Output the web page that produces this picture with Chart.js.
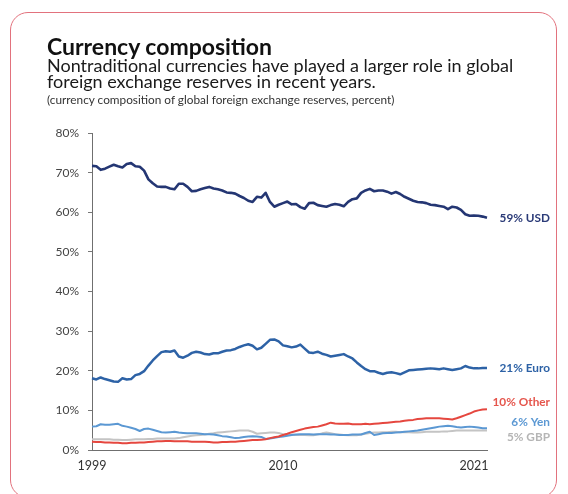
<!DOCTYPE html>
<html>
<head>
<meta charset="utf-8">
<script src="https://cdn.jsdelivr.net/npm/chart.js"></script>
<style>
  body { margin: 0; background: #fff; font-family: Lato, "Noto Sans", sans-serif; }
  #wrap { position: relative; width: 568px; height: 494px; overflow: hidden; }
  #frame { position: absolute; left: 10px; top: 12px; width: 545px; height: 484px;
           border: 1.5px solid #e2727d; border-radius: 18px; pointer-events: none; }
  #my-chart { position: absolute; left: 0; top: 0; }
  .txt { position: absolute; left: 47px; color: #111; white-space: nowrap; }
  #title { top: 34px; font-size: 23px; line-height: 24px; font-weight: 700; }
  #sub { top: 57px; font-size: 18px; line-height: 16px; color: #1a1a1a; }
  #note { top: 92.5px; font-size: 11.8px; line-height: 14px; color: #333; }
</style>
</head>
<body>
<div id="wrap">
  <canvas id="my-chart" width="568" height="494"></canvas>
  <div class="txt" id="title">Currency composition</div>
  <div class="txt" id="sub">Nontraditional currencies have played a larger role in global<br>foreign exchange reserves in recent years.</div>
  <div class="txt" id="note">(currency composition of global foreign exchange reserves, percent)</div>
  <div id="frame"></div>
</div>
<script>
// quarterly, 1999Q1 .. 2021Q4
const quarters = [];
for (let y = 1999; y <= 2021; y++) {
  for (let q = 1; q <= 4; q++) quarters.push(y + 'Q' + q);
}
const yearTicks = ['1999', '2010', '2021'];
const yTicks = [0, 10, 20, 30, 40, 50, 60, 70, 80];

const usd = [71.7, 71.6, 70.7, 71.0, 71.5, 72.0, 71.6, 71.3, 72.2, 72.4,
  71.6, 71.5, 70.5, 68.3, 67.3, 66.5, 66.4, 66.4, 66.0, 65.8,
  67.2, 67.2, 66.4, 65.3, 65.4, 65.8, 66.1, 66.4, 66.0, 65.8,
  65.5, 65.0, 64.9, 64.7, 64.1, 63.6, 62.9, 62.6, 63.9, 63.7,
  64.9, 62.6, 61.4, 61.9, 62.3, 62.7, 62.0, 62.1, 61.3, 60.9,
  62.3, 62.4, 61.8, 61.6, 61.4, 61.8, 62.1, 61.9, 61.5, 62.6,
  63.3, 63.5, 64.9, 65.5, 65.9, 65.3, 65.5, 65.5, 65.2, 64.7,
  65.1, 64.6, 63.9, 63.4, 62.9, 62.6, 62.5, 62.3, 61.9, 61.8,
  61.6, 61.4, 60.8, 61.4, 61.2, 60.6, 59.5, 59.1, 59.2, 59.1,
  58.9, 58.6];
const euro = [18.1, 17.8, 18.3, 17.9, 17.6, 17.3, 17.2, 18.1, 17.8, 17.9,
  18.9, 19.2, 19.9, 21.3, 22.6, 23.7, 24.7, 24.9, 24.8, 25.1,
  23.6, 23.3, 23.8, 24.5, 24.8, 24.6, 24.2, 24.1, 24.4, 24.4,
  24.8, 25.1, 25.2, 25.5, 26.0, 26.4, 26.7, 26.3, 25.4, 25.8,
  26.8, 27.8, 27.9, 27.4, 26.4, 26.2, 25.9, 26.1, 26.6, 25.6,
  24.6, 24.5, 24.8, 24.3, 24.0, 23.6, 23.8, 24.0, 24.2, 23.6,
  23.1, 22.1, 21.2, 20.4, 19.9, 19.9, 19.5, 19.2, 19.5, 19.6,
  19.4, 19.1, 19.6, 20.1, 20.2, 20.3, 20.4, 20.5, 20.6, 20.5,
  20.4, 20.6, 20.4, 20.2, 20.4, 20.6, 21.2, 20.8, 20.6, 20.6,
  20.7, 20.7];
const other = [2.1, 2.0, 2.0, 1.9, 1.9, 1.8, 1.8, 1.7, 1.7, 1.8,
  1.8, 1.9, 1.9, 2.0, 2.1, 2.2, 2.2, 2.3, 2.3, 2.2,
  2.2, 2.2, 2.2, 2.1, 2.1, 2.1, 2.1, 2.0, 1.9, 1.9,
  2.0, 2.0, 2.1, 2.1, 2.2, 2.3, 2.4, 2.5, 2.5, 2.6,
  2.7, 3.0, 3.2, 3.4, 3.8, 4.1, 4.5, 4.8, 5.1, 5.4,
  5.6, 5.8, 5.9, 6.2, 6.5, 6.9, 6.7, 6.6, 6.6, 6.7,
  6.5, 6.5, 6.5, 6.6, 6.5, 6.6, 6.7, 6.8, 6.9, 7.0,
  7.1, 7.2, 7.4, 7.5, 7.6, 7.8, 7.9, 8.0, 8.0, 8.0,
  8.0, 7.9, 7.8, 7.7, 8.0, 8.4, 8.8, 9.2, 9.7, 10.0,
  10.2, 10.3];
const yen = [5.9, 6.0, 6.5, 6.4, 6.4, 6.5, 6.6, 6.1, 5.9, 5.6,
  5.3, 4.8, 5.3, 5.4, 5.1, 4.8, 4.5, 4.4, 4.5, 4.6,
  4.4, 4.3, 4.2, 4.2, 4.2, 4.1, 4.0, 4.0, 3.9, 3.7,
  3.5, 3.4, 3.2, 3.0, 3.1, 3.3, 3.4, 3.5, 3.4, 3.3,
  2.8, 2.9, 3.1, 3.3, 3.4, 3.6, 3.8, 3.9, 4.0, 4.0,
  4.0, 3.9, 4.0, 4.0, 4.0, 3.9, 3.9, 3.8, 3.8, 3.8,
  3.9, 3.9, 3.9, 4.3, 4.6, 3.8, 4.0, 4.2, 4.3, 4.3,
  4.4, 4.5, 4.6, 4.7, 4.8, 4.9, 5.1, 5.3, 5.5, 5.7,
  5.9, 6.0, 6.1, 6.0, 5.8, 5.7, 5.8, 5.9, 5.8, 5.7,
  5.5, 5.5];
const gbp = [2.7, 2.7, 2.7, 2.7, 2.7, 2.6, 2.6, 2.5, 2.5, 2.6,
  2.7, 2.7, 2.7, 2.8, 2.8, 2.9, 2.9, 2.9, 2.9, 2.9,
  3.0, 3.2, 3.4, 3.6, 3.7, 3.8, 3.9, 4.1, 4.2, 4.4,
  4.5, 4.6, 4.7, 4.8, 4.9, 4.9, 4.9, 4.6, 4.1, 4.2,
  4.3, 4.4, 4.4, 4.3, 4.0, 3.9, 3.9, 3.8, 3.8, 3.8,
  3.7, 3.7, 3.9, 4.2, 4.4, 4.2, 4.0, 3.9, 3.8, 3.7,
  3.7, 3.7, 3.9, 4.1, 4.3, 4.4, 4.4, 4.5, 4.5, 4.6,
  4.6, 4.5, 4.5, 4.5, 4.4, 4.4, 4.5, 4.6, 4.6, 4.6,
  4.6, 4.7, 4.7, 4.8, 4.9, 4.9, 4.9, 4.9, 4.9, 4.9,
  4.9, 4.9];

const seriesNames = ['59% USD', '21% Euro', '10% Other', '6% Yen', '5% GBP'];

// end-of-line labels, drawn right-aligned next to the last point
const endLabels = {
  id: 'endLabels',
  afterDatasetsDraw(chart, args, opts) {
    const ctx = chart.ctx;
    ctx.save();
    ctx.font = 'bold 11.8px Lato, "Noto Sans", sans-serif';
    ctx.textAlign = 'right';
    ctx.textBaseline = 'middle';
    chart.data.datasets.forEach((ds, i) => {
      const meta = chart.getDatasetMeta(i);
      const last = meta.data[meta.data.length - 1];
      ctx.fillStyle = ds.labelColor;
      ctx.fillText(ds.label, opts.right, last.y + (opts.dy[i] || 0));
    });
    ctx.restore();
  }
};

const ctx = document.getElementById('my-chart').getContext('2d');
const chart = new Chart(ctx, {
  type: 'line',
  data: {
    labels: quarters,
    datasets: [
      { label: seriesNames[0], data: usd, borderColor: '#243673', labelColor: '#2b3b78', borderWidth: 2.6 },
      { label: seriesNames[1], data: euro, borderColor: '#2d62a6', labelColor: '#2d62a6', borderWidth: 2.5 },
      { label: seriesNames[2], data: other, borderColor: '#e5473f', labelColor: '#e5554c', borderWidth: 2 },
      { label: seriesNames[3], data: yen, borderColor: '#5b98d3', labelColor: '#5b98d3', borderWidth: 2 },
      { label: seriesNames[4], data: gbp, borderColor: '#c4c4c4', labelColor: '#b5b5b5', borderWidth: 2 }
    ]
  },
  options: {
    responsive: false,
    animation: false,
    elements: { point: { radius: 0 }, line: { tension: 0, borderJoinStyle: 'round' } },
    layout: { padding: { left: 0, top: 133, right: 81, bottom: 14 } },
    plugins: {
      legend: { display: false },
      tooltip: { enabled: false },
      endLabels: { right: 550, dy: [0, 0, -6.5, -6.5, 6.7] }
    },
    scales: {
      x: {
        grid: { display: false, drawTicks: false },
        border: { display: true, color: '#6f6f6f', width: 1 },
        afterFit(scale) { scale.height = 30; },
        ticks: {
          autoSkip: false,
          maxRotation: 0,
          padding: 8,
          color: '#333',
          font: { family: 'Lato', size: 12.5 },
          callback(val, idx) {
            const l = quarters[idx];
            const yr = l.slice(0, 4);
            return l.endsWith('Q1') && yearTicks.includes(yr) ? yr : null;
          }
        }
      },
      y: {
        min: 0,
        max: 80,
        afterFit(scale) { scale.width = 92; },
        afterBuildTicks(scale) { scale.ticks = yTicks.map(v => ({ value: v })); },
        grid: { drawOnChartArea: false, tickLength: 4, color: '#777' },
        border: { display: true, color: '#6f6f6f', width: 1 },
        ticks: {
          padding: 9,
          color: '#444',
          font: { family: 'Lato', size: 12 },
          callback: v => v + '%'
        }
      }
    }
  },
  plugins: [endLabels]
});
</script>
</body>
</html>
